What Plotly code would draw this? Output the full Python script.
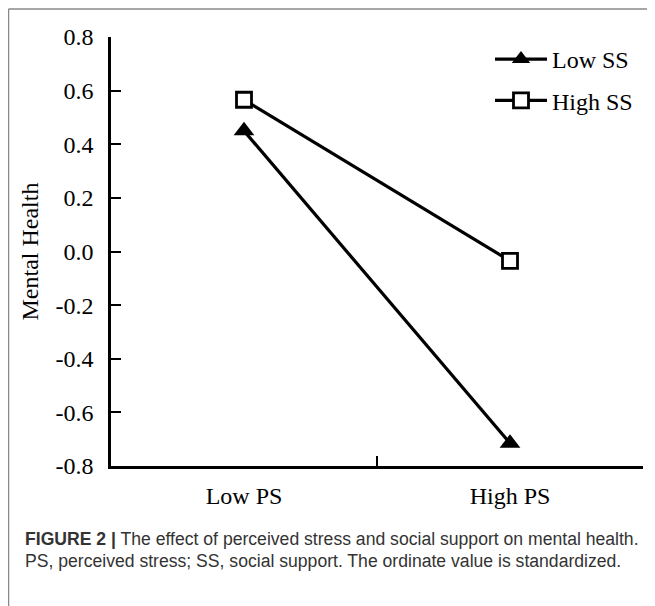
import plotly.graph_objects as go

categories = ["Low PS", "High PS"]
low_ss = [0.45, -0.715]
high_ss = [0.566, -0.035]
y_ticks = [-0.8, -0.6, -0.4, -0.2, 0.0, 0.2, 0.4, 0.6, 0.8]
y_tick_labels = ["-0.8", "-0.6", "-0.4", "-0.2", "0.0", "0.2", "0.4", "0.6", "0.8"]
x_tick_marks = [0.5, 1.5]

serif = "Liberation Serif, Times New Roman, serif"
sans = "Liberation Sans, Arial, sans-serif"

W, H = 647, 598
L, R, T, B = 103, 12, 29, 140
PW, PH = W - L - R, H - T - B

xpos = list(range(len(categories)))

fig = go.Figure()
fig.add_trace(go.Scatter(
    x=xpos, y=low_ss, name="Low SS", mode="lines+markers",
    line=dict(color="black", width=3.2),
    marker=dict(symbol="triangle-up", size=18, color="black"),
    legendgroup="a",
))
fig.add_trace(go.Scatter(
    x=xpos, y=high_ss, name="High SS", mode="lines+markers",
    line=dict(color="black", width=3.2),
    marker=dict(symbol="square", size=15, color="white", line=dict(color="black", width=2.8)),
    legendgroup="b",
))
fig.add_trace(go.Scatter(x=[0.5], y=[0], xaxis="x2", mode="markers",
                         marker=dict(opacity=0), showlegend=False, hoverinfo="skip"))

fig.update_layout(
    width=W, height=H,
    margin=dict(l=L, r=R, t=T, b=B),
    plot_bgcolor="white", paper_bgcolor="white",
    showlegend=True,
    legend=dict(
        x=0.7124, y=1.0, xanchor="left", yanchor="top",
        font=dict(family=serif, size=24, color="black"),
        bgcolor="rgba(0,0,0,0)", traceorder="grouped", tracegroupgap=7,
        itemwidth=52,
    ),
    xaxis=dict(
        range=[-0.5, 1.5], tickvals=xpos, ticktext=categories,
        ticks="", showgrid=False, zeroline=False,
        showline=True, linecolor="black", linewidth=2.5,
        tickfont=dict(family=serif, size=24, color="black"),
        ticklabelstandoff=6,
    ),
    xaxis2=dict(
        range=[-0.5, 1.5], overlaying="x", side="bottom",
        tickvals=x_tick_marks, ticktext=["", ""], ticks="inside",
        ticklen=10, tickwidth=2, tickcolor="black",
        showgrid=False, zeroline=False, showline=False,
    ),
    yaxis=dict(
        range=[-0.8, 0.8], tickvals=y_ticks, ticktext=y_tick_labels,
        ticks="inside", ticklen=10, tickwidth=2, tickcolor="black",
        showgrid=False, zeroline=False,
        showline=True, linecolor="black", linewidth=2.5,
        tickfont=dict(family=serif, size=24, color="black"),
        ticklabelstandoff=10,
    ),
    shapes=[
        dict(type="line", xref="paper", yref="paper",
             x0=-(L - 0.5) / PW, x1=(W - L) / PW, y0=1 + (T - 1) / PH, y1=1 + (T - 1) / PH,
             line=dict(color="#888888", width=1.5)),
        dict(type="line", xref="paper", yref="paper",
             x0=-(L - 0.5) / PW, x1=-(L - 0.5) / PW, y0=1 + (T - 1) / PH, y1=-B / PH,
             line=dict(color="#888888", width=1.5)),
    ],
)

fig.add_annotation(
    text="Mental Health", xref="paper", yref="paper", x=0, y=0.5,
    xanchor="center", yanchor="middle", xshift=-82, textangle=-90, showarrow=False,
    font=dict(family=serif, size=24, color="black"),
)
fig.add_annotation(
    text="<b>FIGURE 2 |</b> The effect of perceived stress and social support on mental health.",
    xref="paper", yref="paper", x=0, y=0, xanchor="left", yanchor="middle",
    xshift=-88, yshift=-73, showarrow=False, align="left",
    font=dict(family=sans, size=17.6, color="#333333"),
)
fig.add_annotation(
    text="PS, perceived stress; SS, social support. The ordinate value is standardized.",
    xref="paper", yref="paper", x=0, y=0, xanchor="left", yanchor="middle",
    xshift=-88, yshift=-95, showarrow=False, align="left",
    font=dict(family=sans, size=17.6, color="#333333"),
)

fig.write_html("out.html")
